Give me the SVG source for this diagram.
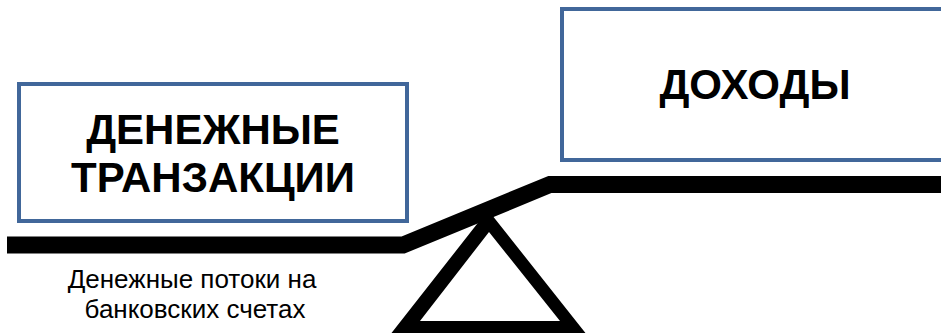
<svg xmlns="http://www.w3.org/2000/svg" width="941" height="333" viewBox="0 0 941 333">
<style>
.box{fill:#fff;stroke:#41679a;stroke-width:4}
.t{font-family:"Liberation Sans",Arial,sans-serif;font-weight:bold;font-size:42px;fill:#000;text-anchor:middle}
.s{font-family:"Liberation Sans",Arial,sans-serif;font-size:26px;fill:#000;text-anchor:middle}
</style>
<rect width="941" height="333" fill="#fff"/>
<g id="connectors">
<polyline points="7,245 403,245 550,184.5 960,184.5" fill="none" stroke="#000" stroke-width="17" stroke-linejoin="miter"/>
<path d="M488,210 L591,340 L386,340 Z M489,232 L560,321 L420,321 Z" fill="#000" fill-rule="evenodd"/>
</g>
<g id="node-left">
<rect class="box" x="19" y="84" width="388" height="137"/>
<text class="t" x="213" y="144">ДЕНЕЖНЫЕ</text>
<text class="t" x="213" y="192">ТРАНЗАКЦИИ</text>
</g>
<g id="node-right">
<rect class="box" x="562" y="9" width="420" height="151"/>
<text class="t" x="755" y="99">ДОХОДЫ</text>
</g>
<g id="caption">
<text class="s" x="192" y="288">Денежные потоки на</text>
<text class="s" x="195" y="318">банковских счетах</text>
</g>
</svg>
